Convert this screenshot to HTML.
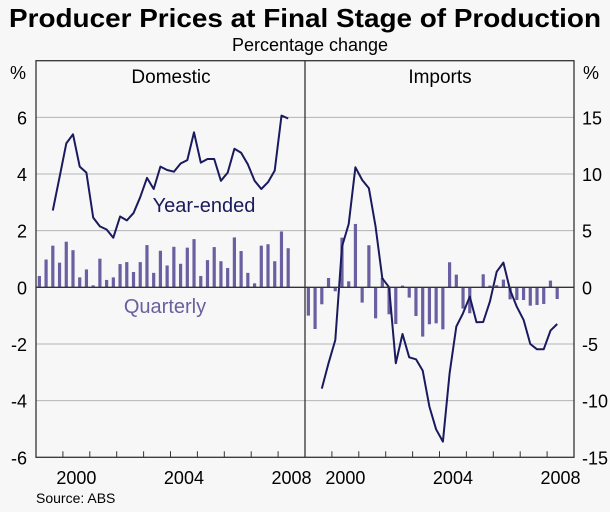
<!DOCTYPE html>
<html><head><meta charset="utf-8"><style>
body{margin:0;background:#f7f7f7;}
svg{display:block;font-family:"Liberation Sans",sans-serif;}
</style></head><body>
<svg id="chart" width="610" height="512" xmlns="http://www.w3.org/2000/svg">
<rect width="610" height="512" fill="#f7f7f7"/>
<text x="305" y="27" text-anchor="middle" font-size="26" font-weight="bold" fill="#000" textLength="592" lengthAdjust="spacingAndGlyphs">Producer Prices at Final Stage of Production</text>
<text x="310" y="51" text-anchor="middle" font-size="18" fill="#000">Percentage change</text>
<g id="grid"></g><g id="marks"></g><g id="axes"></g>
<text x="18" y="79" text-anchor="middle" font-size="18">%</text>
<text x="591" y="79" text-anchor="middle" font-size="18">%</text>
<text x="171" y="83" text-anchor="middle" font-size="19">Domestic</text>
<text x="440" y="83" text-anchor="middle" font-size="19">Imports</text>
<text x="204" y="212" text-anchor="middle" font-size="20" fill="#1a1a5e">Year-ended</text>
<text x="165" y="313" text-anchor="middle" font-size="20" fill="#6a5fa0">Quarterly</text>
<text x="36" y="503" font-size="14">Source: ABS</text>
</svg>
<script>
const domQuarterly=[0.40,0.98,1.47,0.87,1.61,1.31,0.35,0.63,0.07,1.01,0.26,0.35,0.82,0.89,0.54,0.89,1.49,0.51,1.29,0.77,1.43,0.83,1.40,1.70,0.40,0.96,1.42,0.92,0.68,1.76,1.28,0.51,0.14,1.47,1.52,0.92,1.97,1.38];
const domYearEnded=[null,null,2.71,3.88,5.08,5.40,4.26,4.05,2.46,2.15,2.04,1.75,2.50,2.36,2.62,3.18,3.86,3.47,4.26,4.14,4.08,4.37,4.49,5.47,4.40,4.53,4.53,3.76,4.05,4.89,4.75,4.34,3.76,3.47,3.71,4.12,6.06,5.96];
const impQuarterly=[-2.50,-3.68,-1.50,0.82,-0.35,4.38,0.53,5.59,-1.35,3.71,-2.74,0.82,-2.38,-3.24,0.15,-0.91,-2.53,-4.35,-3.26,-3.18,-3.71,2.21,1.12,-1.88,-2.29,-0.06,1.15,0.15,0.18,0.68,-1.06,-1.12,-1.12,-1.62,-1.56,-1.47,0.59,-1.03];
const impYearEnded=[null,null,-8.94,-6.71,-4.65,3.59,5.59,10.59,9.47,8.74,5.35,0.79,0,-6.71,-4.12,-6.18,-6.35,-7.35,-10.53,-12.53,-13.62,-7.59,-3.47,-2.29,-0.82,-3.09,-3.06,-1.26,1.38,2.18,-0.24,-1.71,-2.88,-5,-5.47,-5.47,-3.82,-3.24];
const leftTicks=[6,4,2,0,-2,-4,-6];
const rightTicks=[15,10,5,0,-5,-10,-15];
const yearLabels=[2000,2004,2008];
const startYear=1999;

const NS="http://www.w3.org/2000/svg";
const L=36,R=574,MID=305,T=60.7,B=457.3,ZERO=287.3,PX=28.33,YEARW=26.9;
function yL(v){return ZERO-v*PX;}
function yR(v){return ZERO-v*PX*2/5;}
function xQ(i,off){return off+(i+0.5)*YEARW/4;}
function xYear(y,off){return off+(y-startYear)*YEARW;}
function mk(tag,attrs,parent){const e=document.createElementNS(NS,tag);for(const k in attrs)e.setAttribute(k,attrs[k]);document.getElementById(parent).appendChild(e);return e;}

leftTicks.forEach(v=>{
  if(v!==-6&&v!==0){const g=mk('line',{x1:L,x2:R,y1:yL(v),y2:yL(v),stroke:'#b4b4b4','stroke-width':1},'grid');
  
  }
  const t=mk('text',{x:27,y:yL(v)+7,'text-anchor':'end','font-size':18},'axes');t.textContent=v;
  
  
});
rightTicks.forEach(v=>{
  const t=mk('text',{x:582,y:yR(v)+7,'text-anchor':'start','font-size':18},'axes');t.textContent=v;
  
  
});
function panel(q,ye,off,yf,nm){
  q.forEach((v,i)=>{
    const x=xQ(i,off),y0=yf(0),y1=yf(v);
    const b=mk('rect',{x:x-1.6,y:Math.min(y0,y1),width:3.2,height:Math.abs(y1-y0),fill:'#6a5fa0'},'marks');
    
    
  });
  let d='';ye.forEach((v,i)=>{if(v===null)return;d+=(d?'L':'M')+xQ(i,off).toFixed(1)+','+yf(v).toFixed(1);});
  const p=mk('path',{d:d,fill:'none',stroke:'#1a1a5e','stroke-width':2,'stroke-linejoin':'round'},'marks');
  
  
  for(let y=startYear+1;y<startYear+10;y++){
    const tk=mk('line',{x1:xYear(y,off),x2:xYear(y,off),y1:B,y2:B-6,stroke:'#333','stroke-width':1},'axes');
    
    
  }
  yearLabels.forEach(y=>{
    const t=mk('text',{x:xYear(y+0.5,off),y:484,'text-anchor':'middle','font-size':18},'axes');t.textContent=y;
    
    
  });
}
panel(domQuarterly,domYearEnded,L,yL,'domestic');
panel(impQuarterly,impYearEnded,MID,yR,'imports');
const z=mk('line',{x1:L,x2:R,y1:ZERO,y2:ZERO,stroke:'#333','stroke-width':1.3},'axes');


const fr=mk('rect',{x:L,y:T,width:R-L,height:B-T,fill:'none',stroke:'#333','stroke-width':1.3},'axes');


const dv=mk('line',{x1:MID,x2:MID,y1:T,y2:B,stroke:'#333','stroke-width':1.3},'axes');


</script>
</body></html>
